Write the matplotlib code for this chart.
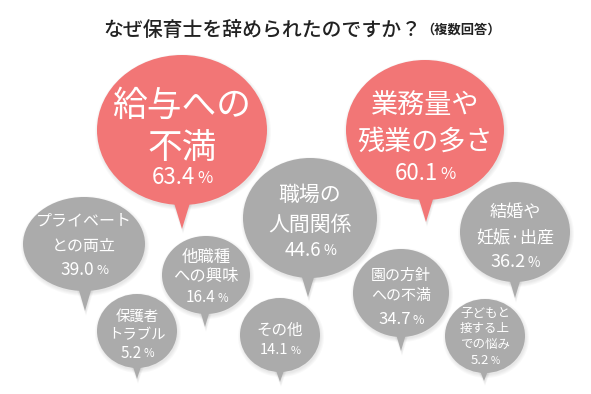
import matplotlib.pyplot as plt
from matplotlib.patches import Ellipse, Polygon

plt.rcParams['font.family'] = ['Noto Sans CJK JP', 'DejaVu Sans']

# data
title = 'なぜ保育士を辞められたのですか？'
subtitle = '（複数回答）'
labels = ['給与への\n不満', '業務量や\n残業の多さ', '職場の\n人間関係', 'プライベート\nとの両立',
          '結婚や\n妊娠·出産', '園の方針\nへの不満', '他職種\nへの興味', 'その他',
          '保護者\nトラブル', '子どもと\n接する上\nでの悩み']
values = [63.4, 60.1, 44.6, 39.0, 36.2, 34.7, 16.4, 14.1, 5.2, 5.2]

# layout (pixels): center x, center y, radius x, radius y, tail tip x, tail tip y
bubbles = [
    (182, 130, 85, 75, 182, 229),
    (425, 130, 79, 70, 426, 222),
    (310, 218, 67, 60, 308, 297),
    (84, 244, 61, 47, 85, 311),
    (515, 232, 55, 50, 515, 298),
    (401, 293, 48, 44, 401, 351),
    (206, 275, 44, 39, 205, 327),
    (280, 335, 40, 37, 280, 382),
    (137, 331, 40, 37, 137, 379),
    (485, 336, 40, 37, 484, 381),
]
# text layout: label center y, line gap px, label font pt, percent y, percent font pt
texts = [
    (127, 42, 25, 177, 16),
    (123.5, 37, 19.5, 173, 16),
    (210, 30, 15, 250, 13.5),
    (233.5, 25, 11.5, 270, 12.5),
    (225, 26, 12.3, 262, 13),
    (286, 20, 10.8, 320, 12),
    (267, 20, 11.8, 298, 11),
    (330, 0, 11.2, 350, 10.5),
    (326, 18, 10.4, 353, 11),
    (328.5, 15.5, 9, 360, 9.5),
]

RED = '#f27676'
GRAY = '#ababab'

fig = plt.figure(figsize=(5.91, 3.94), dpi=100)
ax = fig.add_axes([0, 0, 1, 1])
ax.set_xlim(0, 591)
ax.set_ylim(394, 0)
ax.axis('off')

t = ax.text(103, 30, title, fontsize=14.3, color='#222222', ha='left', va='center',
            fontweight='medium')
ax.annotate(subtitle, xy=(1, 0.5), xycoords=t, xytext=(0, 0), textcoords='offset points',
            fontsize=9.5, color='#222222', ha='left', va='center', fontweight='bold')

for lab, val, (cx, cy, rx, ry, tx, ty), (ly, gap, fs, py, pfs) in zip(labels, values, bubbles, texts):
    col = RED if val > 50 else GRAY
    hw = max(6, 0.14 * rx)
    base = cy + ry * 0.8
    # soft shadow
    for k in range(4):
        ax.add_patch(Ellipse((cx + 1, cy + 2), 2 * rx + 2 * k, 2 * ry + 2 * k,
                             color='black', alpha=0.025, lw=0, zorder=1))
        ax.add_patch(Polygon([(tx - hw - k, base), (tx + hw + k, base), (tx + 1, ty + 2 + k)],
                             color='black', alpha=0.025, lw=0, zorder=1))
    ax.add_patch(Ellipse((cx, cy), 2 * rx, 2 * ry, color=col, lw=0, zorder=2))
    ax.add_patch(Polygon([(tx - hw, base), (tx + hw, base), (tx, ty)], color=col, lw=0, zorder=2))

    lines = lab.split('\n')
    n = len(lines)
    for i, line in enumerate(lines):
        ax.text(cx, ly + (i - (n - 1) / 2) * gap, line, fontsize=fs, color='white',
                ha='center', va='center', zorder=3)
    shift = 0.45 * pfs + 1
    num = ax.text(cx - shift, py, f'{val:.1f}', fontsize=pfs, color='white',
                  ha='center', va='center', zorder=3)
    ax.annotate('%', xy=(1, 0.45), xycoords=num, xytext=(1.5, 0), textcoords='offset points',
                fontsize=pfs * 0.75, color='white', ha='left', va='center', zorder=3)

fig.savefig('out.png', dpi=100, facecolor='white')
